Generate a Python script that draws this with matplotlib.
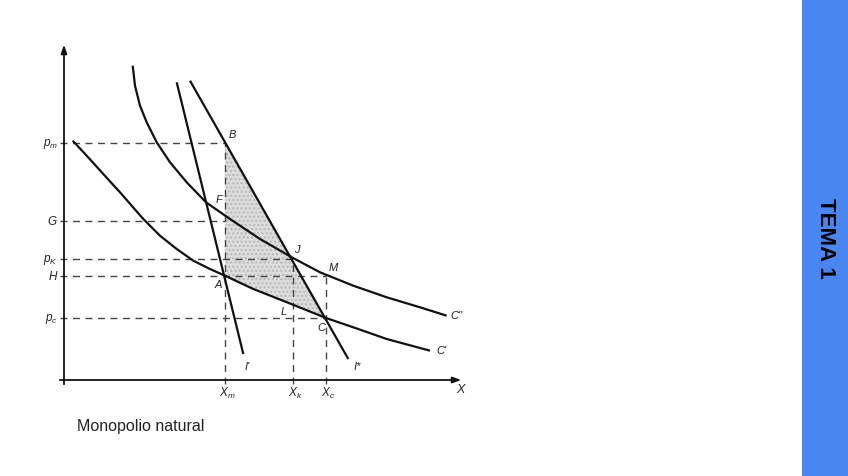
import matplotlib.pyplot as plt
from matplotlib.patches import Rectangle, Polygon

plt.rcParams['font.family'] = ['Liberation Sans', 'DejaVu Sans']
plt.rcParams['mathtext.fontset'] = 'custom'
plt.rcParams['mathtext.it'] = 'Liberation Sans:italic'
plt.rcParams['mathtext.rm'] = 'Liberation Sans'

# prices on the vertical axis
price_labels = ['$p_m$', '$G$', '$p_K$', '$H$', '$p_c$']
price_values = [237, 159, 121, 104, 62]
price_ends = [161, 161, 229, 262, 262]   # where each dashed line stops

# quantities on the horizontal axis
qty_labels = ['$X_m$', '$X_k$', '$X_c$']
qty_values = [161, 229, 262]
qty_tops = [237, 121, 104]

# cost curves
c2_x = [68.7, 71, 76, 82.7, 92.7, 106, 122.7, 142, 166, 196, 229, 256, 289.3, 322.7, 356, 382.7]
c2_y = [314.3, 294.3, 274.3, 257.7, 237.7, 217.7, 197.7, 177.7, 161, 141, 122, 107.7, 94.3, 82.7, 72.7, 64.3]
c1_x = [8.7, 22.7, 39.3, 56, 79.3, 96, 112.7, 129.3, 146, 161, 189.3, 222.7, 262, 289.3, 322.7, 366]
c1_y = [239.3, 224.3, 206, 187.7, 161, 144.3, 131, 119.3, 111, 104.3, 91, 77.8, 62, 52.7, 41, 29.3]

# demand lines I' and I*
i1_x = [112.7, 179.3]
i1_y = [297.7, 26]
i2_x = [126, 284.3]
i2_y = [299.3, 21]

point_labels = ['B', 'F', 'J', 'M', 'A', 'L', 'C']
point_x = [168, 155, 233, 269, 154, 220, 257]
point_y = [246, 181, 131, 113, 96, 69, 53]

fig = plt.figure(figsize=(8.48, 4.77), dpi=100)
ax = fig.add_axes([0, 0, 1, 1])
ax.set_xlim(-64, 784)
ax.set_ylim(-96, 381)
ax.axis('off')

# shaded area B - C - A
shade = [(price_ends[0], price_values[0]), (qty_values[2], price_values[4])]
shade += [(x, y) for x, y in zip(c1_x[::-1], c1_y[::-1]) if qty_values[0] < x < qty_values[2]]
shade += [(qty_values[0], price_values[3])]
ax.add_patch(Polygon(shade, closed=True, facecolor='#dcdcdc', edgecolor='#b8b8b8',
                     hatch='....', linewidth=0, zorder=1))

dash = dict(color='#444444', lw=1.0, ls=(0, (5, 4)), zorder=2)
for v, e in zip(price_values, price_ends):
    ax.plot([-4, e], [v, v], **dash)
for v, t in zip(qty_values, qty_tops):
    ax.plot([v, v], [-4, t], **dash)

line = dict(color='#111111', lw=1.6, solid_capstyle='butt', solid_joinstyle='round', zorder=3)
ax.plot(c2_x, c2_y, **line)
ax.plot(c1_x, c1_y, **line)
ax.plot(i1_x, i1_y, **line)
ax.plot(i2_x, i2_y, **line)

# axes with arrows
ax.annotate('', xy=(0, 338), xytext=(0, -7),
            arrowprops=dict(arrowstyle='-|>,head_length=0.5,head_width=0.18', color='#111111', lw=1.3))
ax.annotate('', xy=(400, 0), xytext=(-7, 0),
            arrowprops=dict(arrowstyle='-|>,head_length=0.5,head_width=0.18', color='#111111', lw=1.3))

txt = dict(ha='center', va='center', color='#222222')
for lab, v in zip(price_labels, price_values):
    ax.text(-6, v, lab, ha='right', va='center', fontsize=8.5, color='#222222')
for lab, v in zip(qty_labels, qty_values):
    ax.text(v + 2, -12, lab, fontsize=8.5, **txt)
ax.text(396, -9, 'X', fontsize=9, style='italic', **txt)

for lab, x, y in zip(point_labels, point_x, point_y):
    ax.text(x, y, lab, fontsize=8, style='italic', **txt)

ax.text(183, 14, "I'", fontsize=8, style='italic', **txt)
ax.text(293, 14, 'I*', fontsize=8, style='italic', **txt)
ax.text(393, 65, "C''", fontsize=8, style='italic', **txt)
ax.text(377, 30, "C'", fontsize=8, style='italic', **txt)

ax.text(13, -46, 'Monopolio natural', ha='left', va='center', fontsize=11.5, color='#222222')

# side bar
fig.patches.append(Rectangle((802 / 848, 0), 46 / 848, 1, transform=fig.transFigure,
                             facecolor='#4a86f0', edgecolor='none'))
fig.text(825 / 848, 1 - 238 / 477, 'TEMA 1', rotation=-90, ha='center', va='center',
         fontsize=16, fontweight='bold', color='black')

fig.savefig('out.png', dpi=100)
